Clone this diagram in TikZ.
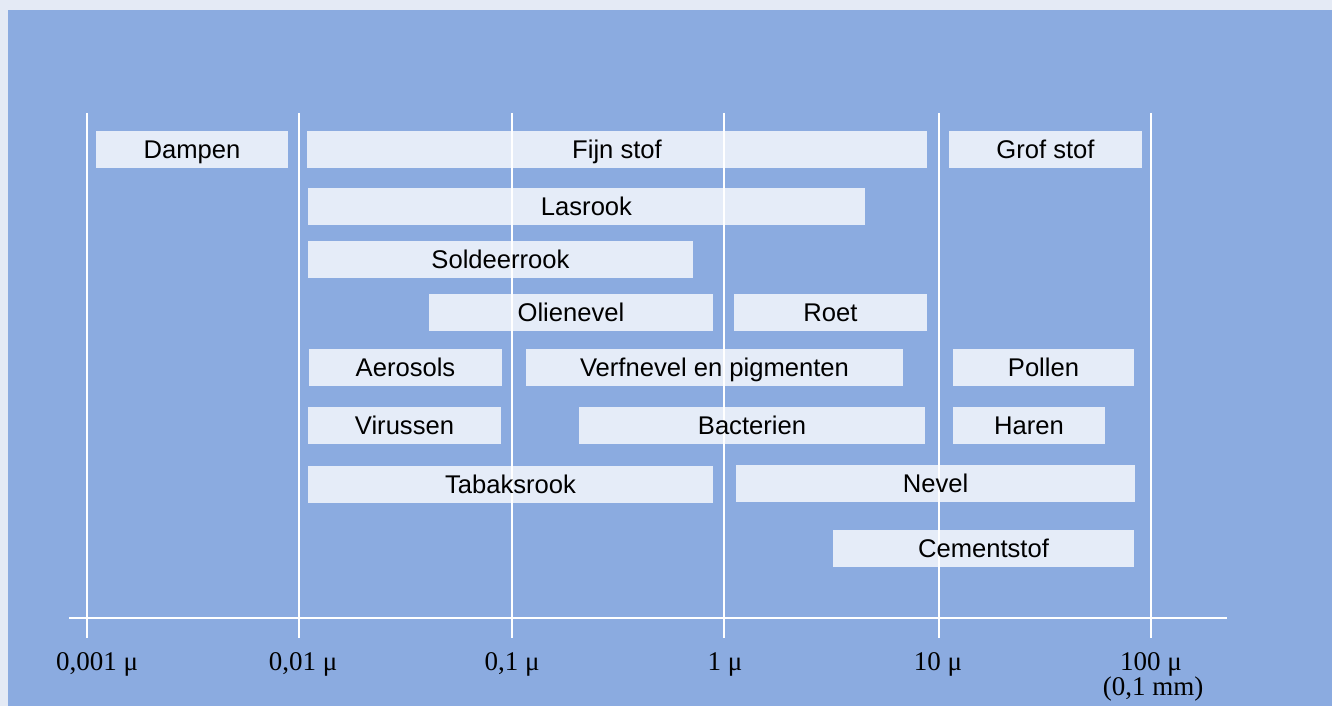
\documentclass[tikz,border=0pt]{standalone}
\usepackage{fontspec}
\setmainfont{Liberation Serif}
\setsansfont{Liberation Sans}
\usetikzlibrary{positioning}
\definecolor{panelblue}{RGB}{139,171,224}
\definecolor{pagefill}{RGB}{228,234,245}

\begin{document}
\begin{tikzpicture}[x=0.5pt, y=-0.5pt,
	bar/.style={fill=white, fill opacity=0.78, text opacity=1, minimum height=18.5pt,
		inner sep=0pt, text height=9.2pt, text depth=0pt,
		font=\sffamily\fontsize{12.8}{14}\selectfont},
	gridline/.style={draw=white, line width=1pt},
	scalelabel/.style={anchor=base, inner sep=0pt, font=\fontsize{13.5}{15}\selectfont}]
	\useasboundingbox (0,0) rectangle (1332,706);
	\fill[pagefill] (0,0) rectangle (1332,706);
	\fill[panelblue] (8,10) rectangle (1332,706);
	% scale
	\coordinate (axl) at (69,618);
	\coordinate (axr) at (1227,618);
	\draw[gridline] (axl) -- (axr);
	\foreach \n/\x/\lx/\lbl in {a/86.5/97/{0,001 μ}, b/299/303/{0,01 μ}, c/511.5/512/{0,1 μ},
		d/724/725/{1 μ}, e/939/938/{10 μ}, f/1151/1151/{100 μ}}{
		\coordinate (top\n) at (\x,113);
		\coordinate (bot\n) at (\x,638);
		\draw[gridline] (top\n) -- (bot\n);
		\node[scalelabel] (lbl\n) at (\lx,670) {\lbl};
	}
	\node[scalelabel] (mm) at (1153,695) {(0,1 mm)};
	% bars
	\node[bar, minimum width=96pt] (dampen) at (192,149) {Dampen};
	\node[bar, minimum width=310pt] (fijn) at (617,149) {Fijn stof};
	\node[bar, minimum width=96.5pt] (grof) at (1045.5,149) {Grof stof};
	\node[bar, minimum width=278.5pt] (las) at (586.5,206.5) {Lasrook};
	\node[bar, minimum width=192.5pt] (solder) at (500.5,259.5) {Soldeerrook};
	\node[bar, minimum width=142pt] (olie) at (571,312) {Olienevel};
	\node[bar, minimum width=96.5pt] (roet) at (830.5,312.5) {Roet};
	\node[bar, minimum width=96.5pt] (aero) at (405.5,367) {Aerosols};
	\node[bar, minimum width=188.5pt] (verf) at (714.5,367) {Verfnevel en pigmenten};
	\node[bar, minimum width=90.5pt] (pollen) at (1043.5,367) {Pollen};
	\node[bar, minimum width=96.5pt] (virus) at (404.5,425.5) {Virussen};
	\node[bar, minimum width=173pt] (bact) at (752,425.5) {Bacterien};
	\node[bar, minimum width=76pt] (haren) at (1029,425.5) {Haren};
	\node[bar, minimum width=202.5pt] (tabak) at (510.5,484) {Tabaksrook};
	\node[bar, minimum width=199.5pt] (nevel) at (935.5,483) {Nevel};
	\node[bar, minimum width=150.5pt] (cement) at (983.5,548.5) {Cementstof};
\end{tikzpicture}
\end{document}
